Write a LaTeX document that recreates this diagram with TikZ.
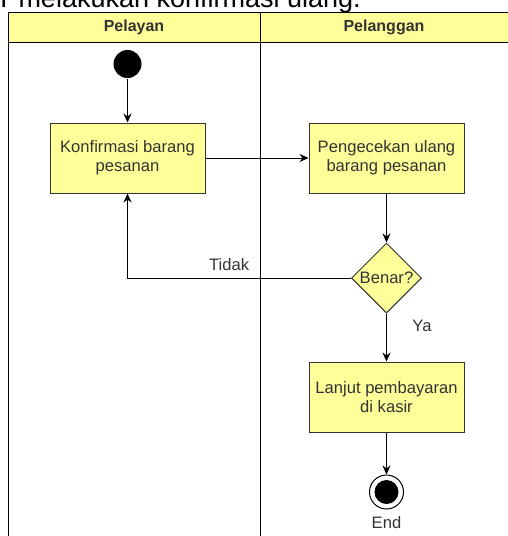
\documentclass[tikz,border=0pt]{standalone}
\usepackage{fontspec}
\setmainfont{Liberation Sans}
\usetikzlibrary{shapes.geometric,arrows.meta}

\definecolor{laneyellow}{HTML}{FFFF99}
\definecolor{inkgray}{HTML}{333333}

\begin{document}
\begin{tikzpicture}[x=1pt,y=-1pt,>={Stealth[length=9pt,width=8pt]},line width=1pt,
    activity/.style={draw=inkgray,fill=laneyellow,minimum width=155pt,minimum height=70pt,
      align=center,font=\fontsize{16.6}{19}\selectfont,text=inkgray},
    decision/.style={diamond,draw=inkgray,fill=laneyellow,minimum width=70pt,minimum height=70pt,
      inner sep=0pt,font=\fontsize{16.6}{19}\selectfont,text=inkgray},
    lanehead/.style={font=\bfseries\fontsize{16}{19}\selectfont,text=inkgray},
    flowlabel/.style={font=\fontsize{16.6}{19}\selectfont,text=inkgray}]
      \useasboundingbox (0,0) rectangle (508,536);
      \clip (0,0) rectangle (508,536);

      % cut-off caption above the pool
      \node[anchor=base west,inner sep=0pt,font=\fontsize{27}{32}\selectfont] (caption) at (0,7.5) {Pmelakukan konfirmasi ulang.};

      % swimlanes
      \draw[fill=laneyellow] (8,12) rectangle (509,42);
      \draw (8,42) -- (8,540);
      \draw (260,12) -- (260,540);
      \draw (509,12) -- (509,540);
      \node[lanehead] (lane1) at (134,27) {Pelayan};
      \node[lanehead] (lane2) at (384,27) {Pelanggan};

      % nodes
      \node[circle,fill=black,minimum size=28pt,inner sep=0pt] (start) at (127.5,64) {};
      \node[activity] (konfirmasi) at (127.5,158) {Konfirmasi barang\\pesanan};
      \node[activity] (cek) at (386.5,158) {Pengecekan ulang\\barang pesanan};
      \node[decision] (benar) at (386.5,278) {Benar?};
      \node[activity] (bayar) at (386.5,397) {Lanjut pembayaran\\di kasir};
      \node[circle,draw=black,fill=white,minimum size=34pt,inner sep=0pt] (end) at (386.5,492) {};
      \fill (end.center) circle (12);
      \node[flowlabel] (endlabel) at (386.5,523) {End};

      % flows
      \draw[->] (start) -- (konfirmasi);
      \draw[->] (konfirmasi) -- (cek);
      \draw[->] (cek) -- (benar);
      \draw[->] (benar.west) -| (konfirmasi.south);
      \draw[->] (benar.south) -- (bayar.north);
      \draw[->] (bayar) -- (end);
      \node[flowlabel,anchor=east] (tidak) at (253,265) {Tidak};
      \node[flowlabel] (ya) at (422,326) {Ya};
   \end{tikzpicture}
\end{document}
